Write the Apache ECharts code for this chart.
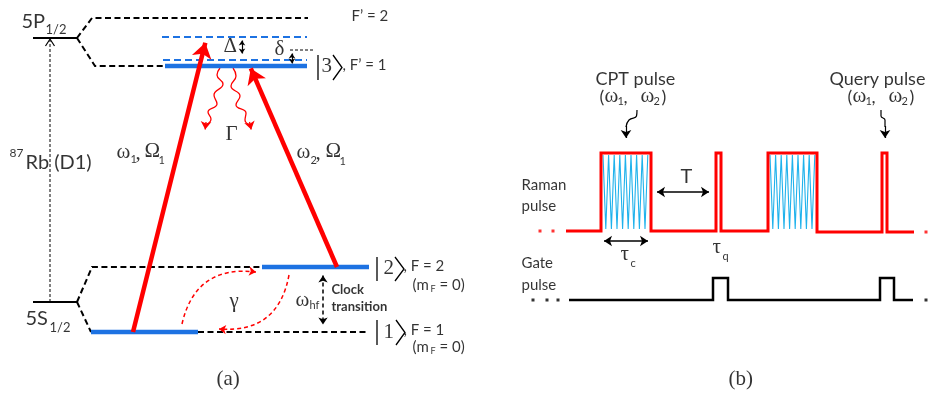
<!DOCTYPE html>
<html><head><meta charset="utf-8">
<script src="https://cdn.jsdelivr.net/npm/echarts@6/dist/echarts.min.js"></script>
<style>html,body{margin:0;padding:0;background:#fff}#c{width:934px;height:394px}</style>
</head><body><div id="c"></div>
<script>
// ---------- diagram geometry (data coordinates of a hidden 934 x 394 frame) ----------
// Panel (a): energy levels
const levelSolidBlack = [
  [[33,38],[77,38]],
  [[33,302],[77,302]]
];
const levelDashedBlack = [
  [[77,38],[92,18],[308,18]],
  [[77,38],[95,66],[165,66]],
  [[77,302],[92,267],[262,267]],
  [[77,302],[91,332]],
  [[198,332],[368,332]]
];
const levelSolidBlue = [
  [[165,66],[307,66]],
  [[262,267],[369,267]],
  [[91,332],[198,332]]
];
const levelDashedBlue = [
  [[162,37],[307,37]],
  [[163,60],[307,60]]
];
const detuneRef = [[[290,50],[313,50]]];
const rbArrowShaft = [[[50,302],[50,40]]];
const rbArrowHead = [[[45.5,46],[50,39],[54.5,46]]];
// laser beams (from, to)
const laserArrows = [
  [[133,332],[205.3,42.8]],
  [[337,267],[250.8,68.4]]
];
// spontaneous decay (wavy) paths
const decayWave1 = [[220,68],[217,75],[223,84],[214,95],[217,104],[208,112],[211,119],[206,125]];
const decayWave2 = [[233,68],[236,76],[231,86],[240,96],[236,105],[246,113],[245,120],[250,125]];
const decayHeads = [
  [[206,122],[205.2,129.5]],
  [[249.5,122],[251.2,129.5]]
];
// small double arrows
const smallDoubleArrows = [
  [[242,40.5],[242,53.5]],
  [[292,53.5],[292,63.5]]
];
const hfArrow = [[[323,275.5],[323,324.5]]];
const ketBars = [
  [[318,55],[318,80]],
  [[377,257],[377,281]],
  [[377,320],[377,345]]
];
const ketAngles = [
  [[333,55],[342,67.5],[333,80]],
  [[395,257],[404,269],[395,281]],
  [[396,320],[405,332.5],[396,345]]
];
// ground-state relaxation (curved dashed arrows)
const relaxArrows = [
  {from:[182,324], to:[256,272], bend:0.45},
  {from:[289,275], to:[219,329], bend:0.45}
];

// Panel (b): pulse sequence
const ramanTrace = [[566,231],[601,231],[601,153],[651,153],[651,231],[716,231],[716,153],[721,153],[721,231],
  [768,231],[768,153],[817,153],[817,232],[882,232],[882,153],[887,153],[887,232],[914,232]];
const gateTrace = [[569,300],[713,300],[713,278],[728,278],[728,300],[880,300],[880,278],[894,278],[894,300],[913,300]];
const cptCarrier1 = [[603,155],[605.8,229],[608.6,155],[611.4,229],[614.2,155],[617,229],[619.8,155],[622.6,229],
  [625.4,155],[628.2,229],[631,155],[633.8,229],[636.6,155],[639.4,229],[642.2,155],[645,229],[647.8,155]];
const cptCarrier2 = [[770,155],[772.8,229],[775.6,155],[778.4,229],[781.2,155],[784,229],[786.8,155],[789.6,229],
  [792.4,155],[795.2,229],[798,155],[800.8,229],[803.6,155],[806.4,229],[809.2,155],[812,229],[814.8,155]];
const ramanDots = [[540,231],[553,231],[926,232]];
const gateDots = [[533,300],[547,300],[558,300],[926,300]];
const pointerCPT = [[637,110],[636.5,116],[629,120],[626,127]];
const pointerQuery = [[881,110],[881,116],[885,120],[885,127]];
const pointerHeads = [
  [[626,126],[626,138]],
  [[885,126],[885,138]]
];
const spanArrows = [
  [[657,192],[709,192]],
  [[604,241],[648,241]]
];

// text: [style, x(left), y(middle), text]
const texts = [
  ['big',22,22,'5P'], ['sub',46,30,'1/2'],
  ['big',26,319,'5S'], ['sub',50,328,'1/2'],
  ['sup',10,154,'87'], ['big',26,163,'Rb (D1)'],
  ['greek',117,153,'ω'], ['gsub',131,160,'1'], ['greek',136,154,','], ['greek',145,152,'Ω'], ['gsub',159,161,'1'],
  ['greek',297,153,'ω'], ['gsub',311,161,'2'], ['greek',316,154,','], ['greek',326,152,'Ω'], ['gsub',340,162,'1'],
  ['greek',226,135,'Γ'], ['greek',224,47,'Δ'], ['greek',275,50,'δ'],
  ['lab',352,17,'F’ = 2'],
  ['ket',322,67,'3'], ['lab',343,66,', F’ = 1'],
  ['ket',384,269,'2'], ['lab',404,267,', F = 2'],
  ['lab',413,286,'(m'], ['sub9',431,290,'F'], ['lab',440,286,'= 0)'],
  ['ket',384,333,'1'], ['lab',404,331,', F = 1'],
  ['lab',413,348,'(m'], ['sub9',431,352,'F'], ['lab',440,348,'= 0)'],
  ['greek',296,301,'ω'], ['gsub',310,306,'hf'],
  ['bold',332,290,'Clock'], ['bold',332,307,'transition'],
  ['greek',230,302,'γ'],
  ['panel',217,380,'(a)'],
  ['pulse',596,80,'CPT pulse'], ['pulse',600,98,'('], ['greek',605,97,'ω'], ['gsub',618,102,'1'], ['pulse',624,98,','],
  ['greek',641,97,'ω'], ['gsub',654,102,'2'], ['pulse',662,98,')'],
  ['pulse',830,80,'Query pulse'], ['pulse',848,98,'('], ['greek',853,97,'ω'], ['gsub',866,102,'1'], ['pulse',872,98,','],
  ['greek',889,97,'ω'], ['gsub',902,102,'2'], ['pulse',910,98,')'],
  ['side',522,186,'Raman'], ['side',522,207,'pulse'], ['side',522,264,'Gate'], ['side',522,286,'pulse'],
  ['T',681,177,'T'],
  ['greek',621,255,'τ'], ['gsub',631,264,'c'],
  ['greek',713,248,'τ'], ['gsub',723,257,'q'],
  ['panel',729,380,'(b)']
];

// ---------- styles ----------
const SANS = 'Lato, "Open Sans", sans-serif';
const SERIF = '"Liberation Serif", "DejaVu Serif", serif';
const textStyles = {
  big:   {fontFamily: SANS, fontSize: 20},
  sub:   {fontFamily: SANS, fontSize: 13},
  sup:   {fontFamily: SANS, fontSize: 12},
  lab:   {fontFamily: SANS, fontSize: 15},
  sub9:  {fontFamily: SANS, fontSize: 9},
  greek: {fontFamily: SERIF, fontSize: 21},
  gsub:  {fontFamily: SANS, fontSize: 11},
  ket:   {fontFamily: SERIF, fontSize: 21},
  bold:  {fontFamily: SANS, fontSize: 13, fontWeight: 'bold'},
  pulse: {fontFamily: SANS, fontSize: 18},
  side:  {fontFamily: SANS, fontSize: 15},
  T:     {fontFamily: SANS, fontSize: 20},
  panel: {fontFamily: SERIF, fontSize: 21}
};
const RED = '#ff0000', BLUE = '#1d72e2', BLACK = '#000', CYAN = '#1fb2ec';

function polyLines(list, color, width, type, z) {
  return {type:'lines', coordinateSystem:'cartesian2d', polyline:true, silent:true, z: z||2,
    data: list.map(c => ({coords:c})),
    lineStyle:{color, width, type: type||'solid', opacity:1, cap:'butt', join:'miter'}};
}
function arrowLines(list, color, width, size, both, type, z) {
  return {type:'lines', coordinateSystem:'cartesian2d', silent:true, z: z||3,
    symbol: both ? ['arrow','arrow'] : ['none','arrow'], symbolSize: size,
    data: list.map(c => ({coords:c})),
    lineStyle:{color, width, type: type||'solid', opacity:1}};
}
function smoothLine(pts, color, width) {
  return {type:'line', data: pts, smooth:0.5, showSymbol:false, silent:true, z:3,
    lineStyle:{color, width}};
}

const series = [
  polyLines(levelDashedBlack, BLACK, 2, [6,3.5]),
  polyLines(levelSolidBlack, BLACK, 2),
  polyLines(levelDashedBlue, BLUE, 2, [7,4]),
  polyLines(levelSolidBlue, BLUE, 4.5, 'solid', 4),
  polyLines(detuneRef, BLACK, 1, [3,2]),
  polyLines(rbArrowShaft, BLACK, 1, [3,2]),
  polyLines(rbArrowHead, BLACK, 1.2),
  arrowLines(laserArrows, RED, 4.5, 15, false, 'solid', 5),
  smoothLine(decayWave1, RED, 1.3),
  smoothLine(decayWave2, RED, 1.3),
  arrowLines(decayHeads, RED, 1.3, 8, false),
  arrowLines(smallDoubleArrows, BLACK, 1.2, 5, true),
  arrowLines(hfArrow, BLACK, 1.5, 7, true, [4,3]),
  polyLines(ketBars, BLACK, 1.3),
  polyLines(ketAngles, BLACK, 1.3),
  {type:'lines', coordinateSystem:'cartesian2d', silent:true, z:3,
    symbol:['none','arrow'], symbolSize:7,
    data: relaxArrows.map(a => ({coords:[a.from, a.to], lineStyle:{curveness:a.bend}})),
    lineStyle:{color:RED, width:1.5, type:[4,3], opacity:1}},
  polyLines([cptCarrier1, cptCarrier2], CYAN, 1.1, 'solid', 2),
  polyLines([ramanTrace], RED, 3, 'solid', 3),
  polyLines([gateTrace], BLACK, 2.5, 'solid', 3),
  {type:'scatter', data: ramanDots, symbol:'rect', symbolSize:3, itemStyle:{color:RED}, silent:true},
  {type:'scatter', data: gateDots, symbol:'rect', symbolSize:3, itemStyle:{color:BLACK}, silent:true},
  smoothLine(pointerCPT, BLACK, 1.2),
  smoothLine(pointerQuery, BLACK, 1.2),
  arrowLines(pointerHeads, BLACK, 1.2, 8, false),
  arrowLines(spanArrows, BLACK, 1.5, 8, true)
];

Object.keys(textStyles).forEach(k => {
  const items = texts.filter(t => t[0] === k);
  if (!items.length) return;
  series.push({
    type:'scatter', silent:true, z:10, symbolSize:1,
    itemStyle:{color:'rgba(0,0,0,0)'},
    data: items.map(t => ({name:t[3], value:[t[1], t[2]]})),
    label:Object.assign({show:true, position:[0,0], align:'left', verticalAlign:'middle',
      color:'#000', formatter:'{b}'}, textStyles[k])
  });
});

const chart = echarts.init(document.getElementById('c'), null, {renderer:'canvas'});
chart.setOption({
  animation:false,
  backgroundColor:'#fff',
  grid:{left:0, right:0, top:0, bottom:0},
  xAxis:{type:'value', min:0, max:934, show:false},
  yAxis:{type:'value', min:0, max:394, inverse:true, show:false},
  series
});
</script></body></html>
